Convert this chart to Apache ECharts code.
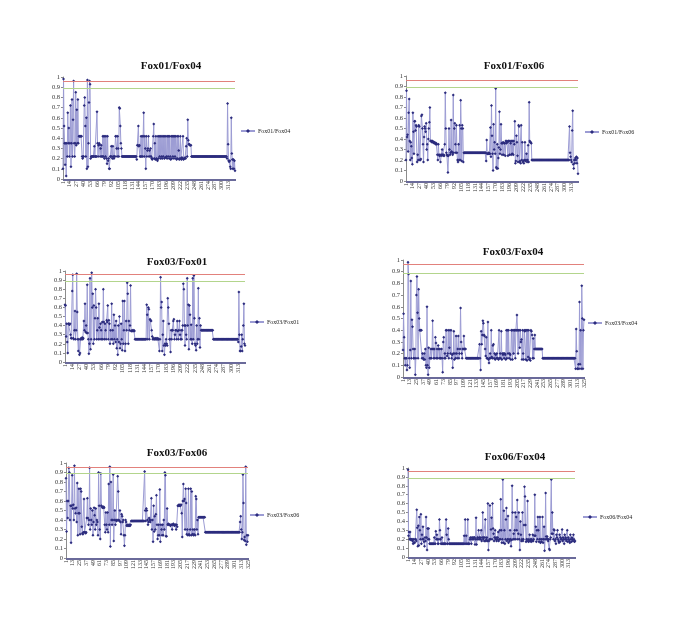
<!DOCTYPE html>
<html><head><meta charset="utf-8">
<script src="https://cdn.jsdelivr.net/npm/echarts@6/dist/echarts.min.js"></script>
<style>html,body{margin:0;padding:0;background:#fff}#c{width:685px;height:636px}</style>
</head><body><div id="c"></div>
<script>
// Threshold lines
const upperLine = 0.96;
const lowerLine = 0.885;

const fox01Fox04 = [
0.10,0.98,0.52,0.35,0.14,0.35,0.03,0.35,0.22,0.65,
0.35,0.50,0.22,0.35,0.72,0.12,0.35,0.78,0.22,0.58,
0.96,0.35,0.22,0.35,0.85,0.33,0.68,0.35,0.78,0.35,
0.42,0.42,0.42,0.42,0.42,0.42,0.22,0.20,0.22,0.22,
0.72,0.80,0.52,0.22,0.60,0.10,0.97,0.12,0.35,0.75,
0.96,0.93,0.20,0.22,0.22,0.22,0.22,0.22,0.22,0.32,
0.22,0.22,0.22,0.22,0.66,0.35,0.22,0.33,0.35,0.34,
0.22,0.30,0.33,0.22,0.22,0.42,0.22,0.42,0.20,0.42,
0.22,0.42,0.20,0.15,0.42,0.18,0.20,0.10,0.10,0.22,
0.22,0.32,0.22,0.20,0.32,0.22,0.20,0.22,0.22,0.42,
0.42,0.30,0.22,0.42,0.30,0.22,0.70,0.69,0.52,0.35,
0.30,0.22,0.22,0.22,0.22,0.22,0.22,0.22,0.22,0.22,
0.22,0.22,0.22,0.22,0.22,0.22,0.22,0.22,0.22,0.22,
0.22,0.22,0.22,0.22,0.22,0.22,0.22,0.22,0.22,0.19,
0.33,0.33,0.52,0.32,0.33,0.22,0.22,0.42,0.22,0.42,
0.22,0.42,0.65,0.22,0.42,0.30,0.10,0.42,0.22,0.28,
0.30,0.42,0.22,0.28,0.22,0.30,0.22,0.20,0.19,0.20,
0.42,0.54,0.20,0.35,0.19,0.42,0.20,0.19,0.18,0.42,
0.20,0.42,0.22,0.42,0.20,0.42,0.22,0.20,0.42,0.22,
0.42,0.20,0.42,0.21,0.42,0.22,0.20,0.42,0.22,0.42,
0.20,0.42,0.22,0.19,0.42,0.20,0.42,0.22,0.42,0.20,
0.42,0.22,0.42,0.20,0.19,0.42,0.20,0.42,0.28,0.19,
0.20,0.42,0.20,0.19,0.21,0.20,0.42,0.19,0.20,0.20,
0.21,0.20,0.32,0.40,0.22,0.58,0.38,0.34,0.34,0.33,
0.33,0.33,0.22,0.22,0.22,0.22,0.22,0.22,0.22,0.22,
0.22,0.22,0.22,0.22,0.22,0.22,0.22,0.22,0.22,0.22,
0.22,0.22,0.22,0.22,0.22,0.22,0.22,0.22,0.22,0.22,
0.22,0.22,0.22,0.22,0.22,0.22,0.22,0.22,0.22,0.22,
0.22,0.22,0.22,0.22,0.22,0.22,0.22,0.22,0.22,0.22,
0.22,0.22,0.22,0.22,0.22,0.22,0.22,0.22,0.22,0.22,
0.22,0.22,0.22,0.22,0.22,0.22,0.22,0.22,0.22,
0.20,0.74,0.34,0.18,0.17,0.18,0.12,0.10,0.60,0.25,
0.19,0.10,0.19,0.10,0.18,0.08];

const fox01Fox06 = [
0.20,0.86,0.42,0.44,0.28,0.65,0.78,0.38,0.20,0.37,
0.33,0.22,0.16,0.65,0.47,0.26,0.57,0.57,0.48,0.53,
0.52,0.18,0.25,0.20,0.53,0.52,0.20,0.20,0.21,0.62,
0.63,0.50,0.35,0.18,0.42,0.52,0.50,0.47,0.55,0.30,
0.35,0.20,0.40,0.50,0.56,0.70,0.38,0.38,0.38,0.37,
0.38,0.37,0.37,0.36,0.37,0.36,0.35,0.36,0.35,0.25,
0.20,0.35,0.25,0.24,0.25,0.18,0.24,0.25,0.30,0.25,
0.24,0.25,0.24,0.35,0.84,0.50,0.27,0.25,0.24,0.08,
0.24,0.50,0.30,0.25,0.27,0.58,0.28,0.27,0.25,0.82,
0.27,0.50,0.55,0.35,0.27,0.53,0.27,0.20,0.18,0.35,
0.20,0.53,0.20,0.77,0.50,0.19,0.53,0.50,0.18,0.27,
0.27,0.27,0.27,0.27,0.27,0.27,0.27,0.27,0.27,0.27,
0.27,0.27,0.27,0.27,0.27,0.27,0.27,0.27,0.27,0.27,
0.27,0.27,0.27,0.27,0.27,0.27,0.27,0.27,0.27,0.27,
0.27,0.27,0.27,0.27,0.27,0.27,0.27,0.27,0.27,0.27,
0.27,0.19,0.39,0.26,0.26,0.26,0.27,0.26,0.26,0.51,
0.23,0.72,0.43,0.26,0.10,0.54,0.30,0.37,0.26,0.88,
0.13,0.12,0.35,0.12,0.22,0.32,0.66,0.26,0.30,0.54,
0.36,0.25,0.36,0.37,0.25,0.36,0.36,0.24,0.38,0.36,
0.38,0.37,0.24,0.38,0.38,0.25,0.38,0.36,0.25,0.38,
0.26,0.38,0.25,0.38,0.35,0.57,0.17,0.19,0.43,0.37,
0.24,0.18,0.53,0.52,0.18,0.19,0.17,0.53,0.20,0.37,
0.18,0.19,0.17,0.20,0.37,0.19,0.20,0.26,0.18,0.20,
0.34,0.18,0.75,0.38,0.37,0.37,0.36,0.20,0.20,0.20,
0.20,0.20,0.20,0.20,0.20,0.20,0.20,0.20,0.20,0.20,
0.20,0.20,0.20,0.20,0.20,0.20,0.20,0.20,0.20,0.20,
0.20,0.20,0.20,0.20,0.20,0.20,0.20,0.20,0.20,0.20,
0.20,0.20,0.20,0.20,0.20,0.20,0.20,0.20,0.20,0.20,
0.20,0.20,0.20,0.20,0.20,0.20,0.20,0.20,0.20,0.20,
0.20,0.20,0.20,0.20,0.20,0.20,0.20,0.20,0.20,0.20,
0.20,0.20,0.20,0.20,0.20,0.20,0.20,0.20,0.52,
0.27,0.23,0.20,0.18,0.48,0.67,0.16,0.12,0.20,0.17,
0.22,0.20,0.23,0.17,0.22,0.07];

const fox03Fox01 = [
0.63,0.62,0.28,0.42,0.22,0.10,0.42,0.42,0.41,0.42,
0.30,0.26,0.26,0.78,0.96,0.26,0.25,0.35,0.56,0.25,
0.35,0.97,0.55,0.25,0.12,0.25,0.08,0.10,0.25,0.26,
0.25,0.27,0.25,0.26,0.45,0.35,0.64,0.33,0.40,0.32,
0.85,0.32,0.25,0.09,0.20,0.92,0.14,0.25,0.98,0.60,
0.75,0.20,0.62,0.25,0.48,0.80,0.60,0.25,0.35,0.48,
0.25,0.64,0.38,0.25,0.42,0.35,0.25,0.44,0.25,0.80,
0.44,0.25,0.42,0.35,0.25,0.46,0.44,0.62,0.25,0.46,
0.42,0.20,0.35,0.25,0.64,0.25,0.35,0.20,0.52,0.25,
0.40,0.22,0.45,0.15,0.25,0.08,0.40,0.22,0.50,0.15,
0.20,0.42,0.25,0.13,0.67,0.20,0.35,0.67,0.12,0.20,
0.45,0.35,0.87,0.75,0.20,0.45,0.35,0.40,0.84,0.34,
0.34,0.35,0.34,0.34,0.35,0.34,0.25,0.25,0.25,0.25,
0.25,0.25,0.25,0.25,0.25,0.25,0.25,0.25,0.25,0.25,
0.25,0.25,0.25,0.25,0.25,0.25,0.25,0.63,0.52,0.25,
0.60,0.58,0.25,0.47,0.46,0.45,0.35,0.28,0.25,0.26,
0.25,0.25,0.26,0.25,0.26,0.25,0.25,0.26,0.25,0.25,
0.12,0.25,0.93,0.60,0.66,0.12,0.30,0.45,0.18,0.08,
0.20,0.18,0.25,0.20,0.18,0.70,0.60,0.42,0.25,0.25,
0.11,0.35,0.25,0.35,0.35,0.45,0.47,0.25,0.30,0.35,
0.35,0.25,0.45,0.34,0.25,0.35,0.45,0.30,0.25,0.35,
0.25,0.35,0.40,0.86,0.80,0.40,0.18,0.40,0.30,0.25,
0.92,0.40,0.63,0.14,0.62,0.52,0.25,0.41,0.25,0.20,
0.92,0.25,0.95,0.48,0.20,0.18,0.13,0.40,0.20,0.25,
0.81,0.25,0.48,0.16,0.40,0.35,0.35,0.35,0.35,0.35,
0.35,0.35,0.35,0.35,0.35,0.35,0.35,0.35,0.35,0.35,
0.35,0.35,0.35,0.35,0.35,0.35,0.35,0.25,0.25,0.25,
0.25,0.25,0.25,0.25,0.25,0.25,0.25,0.25,0.25,0.25,
0.25,0.25,0.25,0.25,0.25,0.25,0.25,0.25,0.25,0.25,
0.25,0.25,0.25,0.25,0.25,0.25,0.25,0.25,0.25,0.25,
0.25,0.25,0.25,0.25,0.25,0.25,0.25,0.25,0.25,
0.25,0.25,0.25,0.22,0.77,0.30,0.12,0.12,0.17,0.30,
0.12,0.25,0.40,0.64,0.20,0.18];

const fox03Fox04 = [
0.23,0.54,0.34,0.16,0.10,0.16,0.16,0.06,0.10,0.98,
0.88,0.16,0.08,0.23,0.82,0.16,0.49,0.43,0.24,0.16,
0.16,0.24,0.02,0.16,0.70,0.86,0.55,0.16,0.75,0.50,
0.40,0.40,0.40,0.40,0.16,0.20,0.16,0.15,0.20,0.15,
0.24,0.10,0.08,0.60,0.10,0.02,0.25,0.08,0.16,0.16,
0.24,0.16,0.24,0.48,0.24,0.16,0.24,0.16,0.34,0.29,
0.16,0.24,0.16,0.27,0.24,0.16,0.24,0.16,0.16,0.24,
0.16,0.04,0.30,0.34,0.16,0.20,0.16,0.40,0.40,0.18,
0.20,0.40,0.16,0.25,0.40,0.20,0.40,0.16,0.19,0.08,
0.20,0.39,0.15,0.20,0.16,0.35,0.20,0.16,0.24,0.35,
0.16,0.20,0.24,0.59,0.30,0.20,0.16,0.24,0.24,0.35,
0.24,0.24,0.24,0.16,0.16,0.16,0.16,0.16,0.16,0.16,
0.16,0.16,0.16,0.16,0.16,0.16,0.16,0.16,0.16,0.16,
0.16,0.16,0.16,0.16,0.16,0.16,0.16,0.28,0.16,0.06,
0.39,0.28,0.36,0.48,0.46,0.36,0.35,0.24,0.18,0.34,
0.16,0.16,0.47,0.15,0.12,0.16,0.20,0.16,0.40,0.17,
0.16,0.27,0.28,0.16,0.20,0.15,0.19,0.16,0.20,0.16,
0.16,0.15,0.40,0.16,0.20,0.16,0.39,0.15,0.20,0.19,
0.20,0.16,0.20,0.19,0.15,0.40,0.16,0.40,0.20,0.40,
0.16,0.20,0.19,0.15,0.40,0.40,0.15,0.40,0.20,0.40,
0.40,0.16,0.40,0.40,0.53,0.40,0.20,0.40,0.40,0.25,
0.40,0.30,0.32,0.15,0.40,0.20,0.15,0.40,0.39,0.40,
0.15,0.40,0.14,0.40,0.17,0.40,0.15,0.16,0.14,0.40,
0.39,0.36,0.16,0.33,0.16,0.24,0.36,0.24,0.24,0.24,
0.24,0.24,0.24,0.24,0.24,0.24,0.24,0.24,0.24,0.24,
0.16,0.16,0.16,0.16,0.16,0.16,0.16,0.16,0.16,0.16,
0.16,0.16,0.16,0.16,0.16,0.16,0.16,0.16,0.16,0.16,
0.16,0.16,0.16,0.16,0.16,0.16,0.16,0.16,0.16,0.16,
0.16,0.16,0.16,0.16,0.16,0.16,0.16,0.16,0.16,0.16,
0.16,0.16,0.16,0.16,0.16,0.16,0.16,0.16,0.16,0.16,
0.16,0.16,0.16,0.16,0.16,0.16,0.16,0.16,0.16,
0.07,0.41,0.22,0.07,0.07,0.11,0.07,0.64,0.11,0.40,
0.07,0.78,0.50,0.07,0.40,0.49];

const fox03Fox06 = [
0.84,0.28,0.60,0.42,0.60,0.95,0.90,0.40,0.55,0.16,
0.55,0.87,0.52,0.56,0.40,0.97,0.52,0.47,0.53,0.38,
0.79,0.24,0.47,0.73,0.47,0.25,0.73,0.70,0.33,0.26,
0.25,0.27,0.62,0.27,0.27,0.26,0.27,0.42,0.63,0.42,
0.35,0.40,0.95,0.30,0.52,0.40,0.35,0.50,0.24,0.38,
0.53,0.45,0.30,0.52,0.35,0.40,0.38,0.24,0.90,0.55,
0.30,0.20,0.89,0.55,0.54,0.53,0.53,0.54,0.53,0.35,
0.27,0.48,0.35,0.30,0.48,0.27,0.78,0.35,0.96,0.12,
0.80,0.40,0.35,0.40,0.88,0.18,0.40,0.50,0.35,0.40,
0.39,0.40,0.86,0.70,0.40,0.39,0.50,0.38,0.25,0.46,
0.44,0.38,0.40,0.24,0.13,0.24,0.40,0.38,0.34,0.35,
0.34,0.34,0.35,0.34,0.34,0.35,0.39,0.39,0.39,0.39,
0.39,0.39,0.39,0.39,0.39,0.39,0.39,0.39,0.39,0.39,
0.39,0.39,0.39,0.39,0.39,0.39,0.39,0.39,0.39,0.39,
0.91,0.50,0.39,0.52,0.50,0.40,0.35,0.38,0.42,0.40,
0.38,0.40,0.63,0.30,0.40,0.17,0.55,0.28,0.44,0.30,
0.46,0.66,0.35,0.20,0.24,0.35,0.24,0.72,0.17,0.35,
0.30,0.24,0.35,0.24,0.40,0.30,0.90,0.87,0.23,0.23,
0.52,0.35,0.36,0.35,0.35,0.35,0.34,0.35,0.35,0.30,
0.35,0.36,0.35,0.34,0.35,0.35,0.30,0.35,0.33,0.55,
0.55,0.56,0.55,0.56,0.55,0.56,0.47,0.22,0.60,0.78,
0.60,0.62,0.30,0.73,0.58,0.25,0.30,0.24,0.73,0.25,
0.24,0.30,0.73,0.24,0.70,0.25,0.30,0.24,0.25,0.30,
0.24,0.65,0.62,0.30,0.40,0.25,0.43,0.43,0.43,0.43,
0.43,0.43,0.43,0.43,0.43,0.43,0.43,0.43,0.27,0.27,
0.27,0.27,0.27,0.27,0.27,0.27,0.27,0.27,0.27,0.27,
0.27,0.27,0.27,0.27,0.27,0.27,0.27,0.27,0.27,0.27,
0.27,0.27,0.27,0.27,0.27,0.27,0.27,0.27,0.27,0.27,
0.27,0.27,0.27,0.27,0.27,0.27,0.27,0.27,0.27,0.27,
0.27,0.27,0.27,0.27,0.27,0.27,0.27,0.27,0.27,0.27,
0.27,0.27,0.27,0.27,0.27,0.27,0.27,0.27,0.27,
0.27,0.38,0.44,0.30,0.20,0.27,0.88,0.58,0.19,0.22,
0.18,0.96,0.14,0.24,0.17,0.24];

const fox06Fox04 = [
0.98,0.24,0.28,0.20,0.28,0.20,0.19,0.20,0.20,0.18,
0.15,0.20,0.16,0.16,0.20,0.20,0.18,0.53,0.33,0.12,
0.35,0.13,0.45,0.30,0.20,0.48,0.15,0.25,0.20,0.34,
0.20,0.17,0.12,0.22,0.18,0.45,0.22,0.08,0.32,0.20,
0.32,0.20,0.15,0.15,0.15,0.15,0.15,0.15,0.15,0.15,
0.15,0.22,0.15,0.15,0.29,0.20,0.25,0.20,0.15,0.15,
0.20,0.42,0.30,0.20,0.15,0.15,0.22,0.15,0.15,0.15,
0.15,0.15,0.15,0.15,0.42,0.25,0.15,0.15,0.32,0.20,
0.15,0.15,0.15,0.15,0.15,0.15,0.15,0.15,0.15,0.15,
0.15,0.15,0.15,0.15,0.15,0.15,0.15,0.15,0.15,0.15,
0.15,0.15,0.15,0.15,0.15,0.15,0.15,0.15,0.15,
0.24,0.15,0.42,0.15,0.24,0.15,0.15,0.42,0.15,0.15,
0.15,0.20,0.22,0.20,0.15,0.22,0.20,0.22,0.20,0.22,
0.22,0.14,0.20,0.44,0.14,0.20,0.22,0.20,0.30,0.22,
0.20,0.22,0.20,0.30,0.18,0.22,0.50,0.20,0.22,0.18,
0.22,0.42,0.18,0.20,0.22,0.18,0.60,0.08,0.18,0.20,
0.58,0.20,0.31,0.44,0.20,0.60,0.32,0.26,0.18,0.22,
0.30,0.20,0.22,0.18,0.20,0.22,0.28,0.18,0.20,0.30,
0.20,0.65,0.30,0.16,0.20,0.87,0.16,0.52,0.30,0.15,
0.20,0.42,0.55,0.18,0.20,0.46,0.16,0.20,0.18,0.30,
0.20,0.12,0.19,0.80,0.50,0.20,0.26,0.20,0.30,0.50,
0.20,0.45,0.30,0.64,0.20,0.26,0.50,0.20,0.08,0.40,
0.25,0.18,0.20,0.50,0.18,0.20,0.36,0.79,0.68,0.36,
0.17,0.20,0.18,0.63,0.20,0.17,0.18,0.25,0.20,0.18,
0.17,0.20,0.18,0.25,0.18,0.20,0.24,0.70,0.24,0.34,
0.17,0.30,0.20,0.45,0.30,0.17,0.20,0.45,0.16,0.20,
0.17,0.20,0.45,0.16,0.20,0.34,0.07,0.20,0.72,0.23,
0.20,0.23,0.20,0.18,0.20,0.09,0.08,0.20,0.22,0.87,
0.26,0.50,0.26,0.20,0.31,0.30,0.18,0.20,0.15,0.25,
0.22,0.30,0.20,0.18,0.16,0.25,0.17,0.22,0.20,0.20,
0.31,0.18,0.22,0.20,0.15,0.25,0.20,0.22,0.18,0.20,
0.30,0.17,0.22,0.20,0.18,0.16,0.25,0.20,0.17,0.22,
0.20,0.18,0.25,0.20,0.17,0.18];

const panelNames = ['Fox01/Fox04','Fox01/Fox06','Fox03/Fox01','Fox03/Fox04','Fox03/Fox06','Fox06/Fox04'];
const panelSeries = [fox01Fox04, fox01Fox06, fox03Fox01, fox03Fox04, fox03Fox06, fox06Fox04];
const labelSteps = [12, 12, 12, 11, 11, 12];

// layout (pixels)
const layout = [
  {grid:{left:63, top:77, width:172, height:102}, title:[166,56], legend:[240,128]},
  {grid:{left:406,top:76, width:172, height:105}, title:[509,56], legend:[584,129]},
  {grid:{left:65, top:271,width:180, height:91},  title:[172,252], legend:[249,319]},
  {grid:{left:403,top:260,width:181, height:117}, title:[508,242], legend:[587,320]},
  {grid:{left:66, top:463,width:182, height:95},  title:[172,443], legend:[249,512]},
  {grid:{left:408,top:468,width:167, height:89},  title:[510,447], legend:[582,514]}
];

const serif = '"Liberation Serif","DejaVu Serif",serif';
const option = {animation:false, backgroundColor:'#fff', title:[], legend:[], grid:[], xAxis:[], yAxis:[], series:[]};

panelSeries.forEach((vals, i) => {
  const cats = vals.map((_, k) => String(k + 1));
  const L = layout[i];
  option.grid.push(Object.assign({containLabel:false}, L.grid));
  option.title.push({text: panelNames[i], left: L.title[0], top: L.title[1], textAlign:'center',
    textStyle:{fontFamily: serif, fontSize: 11, fontWeight:'bold', color:'#111'}});
  option.legend.push({data:[panelNames[i]], left: L.legend[0], top: L.legend[1], itemWidth:14, itemHeight:5,
    padding:0, textStyle:{fontFamily: serif, fontSize:6, color:'#222', padding:[0,0,0,-2]}});
  option.xAxis.push({type:'category', gridIndex:i, data:cats, boundaryGap:false,
    axisLine:{lineStyle:{color:'#8c8c8c', width:1}},
    axisTick:{show:true, interval:0, length:2, lineStyle:{color:'#6a6a9a'}},
    axisLabel:{interval: labelSteps[i], rotate:90, fontSize:6, fontFamily: serif, color:'#333', margin:2}});
  option.yAxis.push({type:'value', gridIndex:i, min:0, max:1, interval:0.1,
    splitLine:{show:false},
    axisLine:{show:true, lineStyle:{color:'#8c8c8c'}},
    axisTick:{show:true, length:2, lineStyle:{color:'#8c8c8c'}},
    axisLabel:{fontSize:6.5, fontFamily: serif, color:'#333', margin:3}});
  option.series.push({name: panelNames[i], type:'line', xAxisIndex:i, yAxisIndex:i, data: vals,
    symbol:'diamond', symbolSize:3, showAllSymbol:true,
    lineStyle:{color:'#9c9cd4', width:1}, itemStyle:{color:'#2c2c7e'},
    markLine:{silent:true, symbol:'none', label:{show:false}, animation:false,
      data:[{yAxis: upperLine, lineStyle:{color:'#e2817c', width:1, type:'solid'}},
            {yAxis: lowerLine, lineStyle:{color:'#b3d58c', width:1, type:'solid'}}]}});
});

const chart = echarts.init(document.getElementById('c'), null, {renderer:'canvas'});
chart.setOption(option);
</script>
</body></html>
